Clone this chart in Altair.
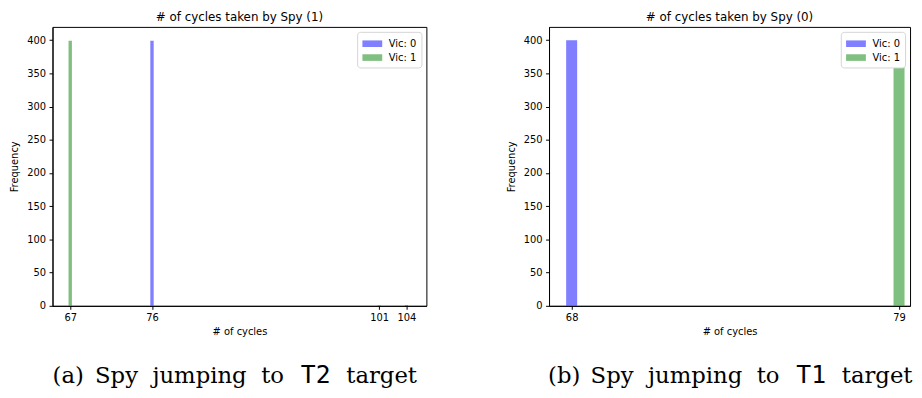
import altair as alt
import pandas as pd

# ---- data ----
series_names = ["Vic: 0", "Vic: 1"]
series_colors = ["blue", "green"]

# Panel (a): Spy (1)
a_cycles_vic0 = [76, 104]
a_freq_vic0 = [399, 1]
a_cycles_vic1 = [67, 101]
a_freq_vic1 = [399, 1]
a_xticks = [67, 76, 101, 104]
a_title = "# of cycles taken by Spy (1)"
a_caption = ["(a)", "Spy", "jumping", "to", "T2", "target"]

# Panel (b): Spy (0)
b_cycles_vic0 = [68]
b_freq_vic0 = [400]
b_cycles_vic1 = [79]
b_freq_vic1 = [400]
b_xticks = [68, 79]
b_title = "# of cycles taken by Spy (0)"
b_caption = ["(b)", "Spy", "jumping", "to", "T1", "target"]

y_ticks = [0, 50, 100, 150, 200, 250, 300, 350, 400]
bin_half = 0.185

# caption layout (pixel offsets of each word from the plot's left edge)
cap_word_x = [0, 43, 101, 211, 251, 297]
cap_code_index = 4


def table(c0, f0, c1, f1):
    rows = []
    for c, f in zip(c0, f0):
        rows.append({"cycles": c, "freq": f, "series": series_names[0]})
    for c, f in zip(c1, f1):
        rows.append({"cycles": c, "freq": f, "series": series_names[1]})
    return pd.DataFrame(rows)


H = 282


def panel(df, xticks, domain, width, title, caption, cap_shift):
    bars = alt.Chart(df).transform_calculate(
        lo=f"datum.cycles - {bin_half}", hi=f"datum.cycles + {bin_half}"
    ).mark_rect(opacity=0.5).encode(
        x=alt.X("lo:Q",
                scale=alt.Scale(domain=domain, nice=False, zero=False),
                axis=alt.Axis(values=xticks, format="d", title="# of cycles",
                              titlePadding=4)),
        x2="hi:Q",
        y=alt.Y("freq:Q", scale=alt.Scale(domain=[0, 420], nice=False),
                axis=alt.Axis(values=y_ticks, title="Frequency", titlePadding=7)),
        y2=alt.datum(0),
        color=alt.Color("series:N",
                        scale=alt.Scale(domain=series_names, range=series_colors),
                        legend=alt.Legend(
                            title=None, orient="top-right", offset=5,
                            fillColor="white", strokeColor="#d5d5d5",
                            cornerRadius=3, padding=5,
                            symbolType="M-1,-0.5L2,-0.5L2,0.5L-1,0.5Z",
                            symbolSize=178, symbolOpacity=0.5, symbolStrokeWidth=0,
                            labelFontSize=10, labelFont="DejaVu Sans",
                            labelColor="black", rowPadding=2, labelOffset=13)),
    )
    ybase = H + 78
    layers = [bars]
    for i, (word, wx) in enumerate(zip(caption, cap_word_x)):
        is_code = i == cap_code_index
        layers.append(
            alt.Chart(pd.DataFrame({"t": [word]})).mark_text(
                font="DejaVu Sans Mono" if is_code else "DejaVu Serif",
                fontSize=25 if is_code else 23,
                align="left", baseline="alphabetic", color="black",
            ).encode(text="t:N", x=alt.value(wx + cap_shift), y=alt.value(ybase))
        )
    return alt.layer(*layers).properties(width=width, height=H, title=title)


left = panel(table(a_cycles_vic0, a_freq_vic0, a_cycles_vic1, a_freq_vic1),
             a_xticks, [65.05, 106.2], 378, a_title, a_caption, 0)
right = panel(table(b_cycles_vic0, b_freq_vic0, b_cycles_vic1, b_freq_vic1),
              b_xticks, [67.24, 79.37], 365, b_title, b_caption, -1)

chart = alt.hconcat(left, right, spacing=79).resolve_scale(
    color="independent").resolve_legend(color="independent").properties(
    padding={"left": 1, "top": 0, "right": 0, "bottom": 0}, background="white"
).configure_axis(
    domainColor="black", tickColor="black", labelColor="black", titleColor="black",
    labelFont="DejaVu Sans", titleFont="DejaVu Sans", labelFontSize=10,
    titleFontSize=10, titleFontWeight="normal", tickSize=3.5, labelPadding=3.5,
    grid=False, domainWidth=1, tickWidth=1
).configure_view(stroke="black", strokeWidth=1).configure_title(
    font="DejaVu Sans", fontSize=12, fontWeight="normal", color="black", offset=3
)

chart.save("out.html", embed_options={"renderer": "svg", "actions": False})
